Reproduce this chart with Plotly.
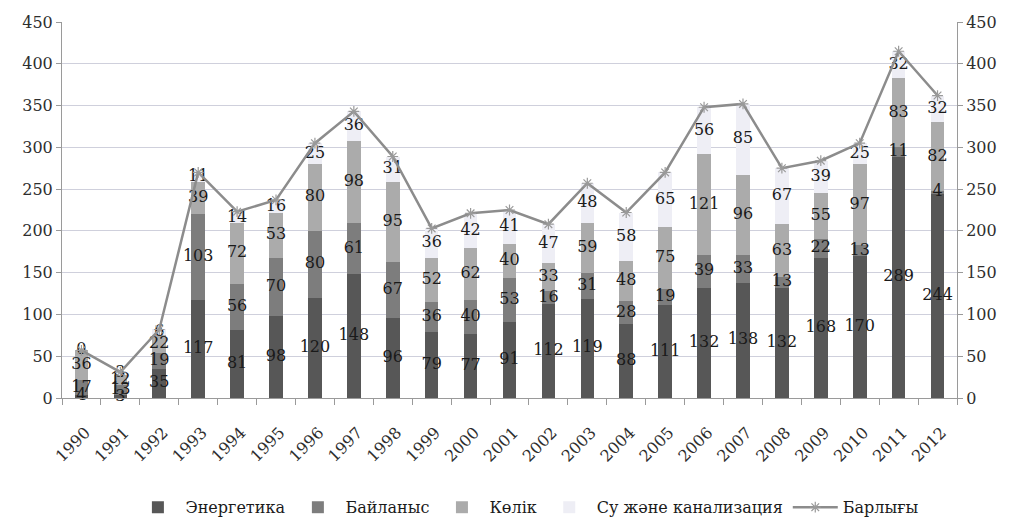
import plotly.graph_objects as go

years = [str(y) for y in range(1990, 2013)]

energy = [4, 3, 35, 117, 81, 98, 120, 148, 96, 79, 77, 91, 112, 119, 88, 111, 132, 138, 132, 168, 170, 289, 244]
comm = [17, 13, 19, 103, 56, 70, 80, 61, 67, 36, 40, 53, 16, 31, 28, 19, 39, 33, 13, 22, 13, 11, 4]
transport = [36, 12, 22, 39, 72, 53, 80, 98, 95, 52, 62, 40, 33, 59, 48, 75, 121, 96, 63, 55, 97, 83, 82]
water = [0, 3, 6, 11, 14, 16, 25, 36, 31, 36, 42, 41, 47, 48, 58, 65, 56, 85, 67, 39, 25, 32, 32]
total = [e + c + t + w for e, c, t, w in zip(energy, comm, transport, water)]

y_ticks = [0, 50, 100, 150, 200, 250, 300, 350, 400, 450]

SERIF = "DejaVu Serif"
TEXT = "#1a1a1a"
TICK = "#2e2e2e"
GRID = "#cfd0dc"

fig = go.Figure()

bar_series = [
    ("Энергетика", energy, "#575757"),
    ("Байланыс", comm, "#7d7d7d"),
    ("Көлік", transport, "#ababab"),
    ("Су және канализация", water, "#eeeef5"),
]

base = [0] * len(years)
label_sets = []
for name, vals, color in bar_series:
    fig.add_trace(go.Bar(
        x=years, y=vals, name=name,
        marker=dict(color=color, line=dict(width=0)),
    ))
    # value labels sit in the middle of each stacked segment
    mids = [b + v / 2 for b, v in zip(base, vals)]
    label_sets.append((vals, mids))
    base = [b + v for b, v in zip(base, vals)]

fig.add_trace(go.Scatter(
    x=years, y=total, name="Барлығы", yaxis="y2",
    mode="lines+markers",
    line=dict(color="#8c8c8c", width=2.5),
    marker=dict(symbol="asterisk-open", size=9, color="#9a9a9a",
                line=dict(color="#9a9a9a", width=1.2)),
))

for vals, mids in label_sets:
    fig.add_trace(go.Scatter(
        x=years, y=mids, mode="text", text=[str(v) for v in vals],
        textposition="middle center", showlegend=False, hoverinfo="skip",
        textfont=dict(family=SERIF, size=16, color=TEXT), cliponaxis=False,
    ))

axis_common = dict(
    range=[0, 450], tickvals=y_ticks,
    tickfont=dict(family=SERIF, size=16, color=TICK),
    showline=True, linecolor="#9a9a9a", linewidth=1,
    ticks="outside", ticklen=5, tickcolor="#9a9a9a",
    zeroline=False, automargin=False,
)

fig.update_layout(
    template="none",
    width=1012, height=523,
    margin=dict(l=62, r=55, t=22, b=125),
    paper_bgcolor="white", plot_bgcolor="white",
    barmode="stack", bargap=0.65,
    showlegend=True,
    font=dict(family=SERIF, color=TEXT),
    legend=dict(orientation="h", x=0.52, xanchor="center",
                yref="container", y=0.03, yanchor="middle",
                font=dict(family=SERIF, size=16, color=TEXT),
                itemwidth=45, traceorder="normal"),
    xaxis=dict(
        type="category", range=[-0.5, 22.5],
        tickangle=-45, tickfont=dict(family=SERIF, size=16, color=TICK),
        ticklabelstandoff=18, ticklabelshift=4,
        showline=True, linecolor="#9a9a9a", linewidth=1,
        ticks="outside", ticklen=6, tickcolor="#9a9a9a", tickson="boundaries",
        showgrid=False, automargin=False,
    ),
    yaxis=dict(**axis_common, showgrid=True, gridcolor=GRID, gridwidth=1),
    yaxis2=dict(**axis_common, overlaying="y", side="right", showgrid=False),
)

fig.write_html("out.html")
